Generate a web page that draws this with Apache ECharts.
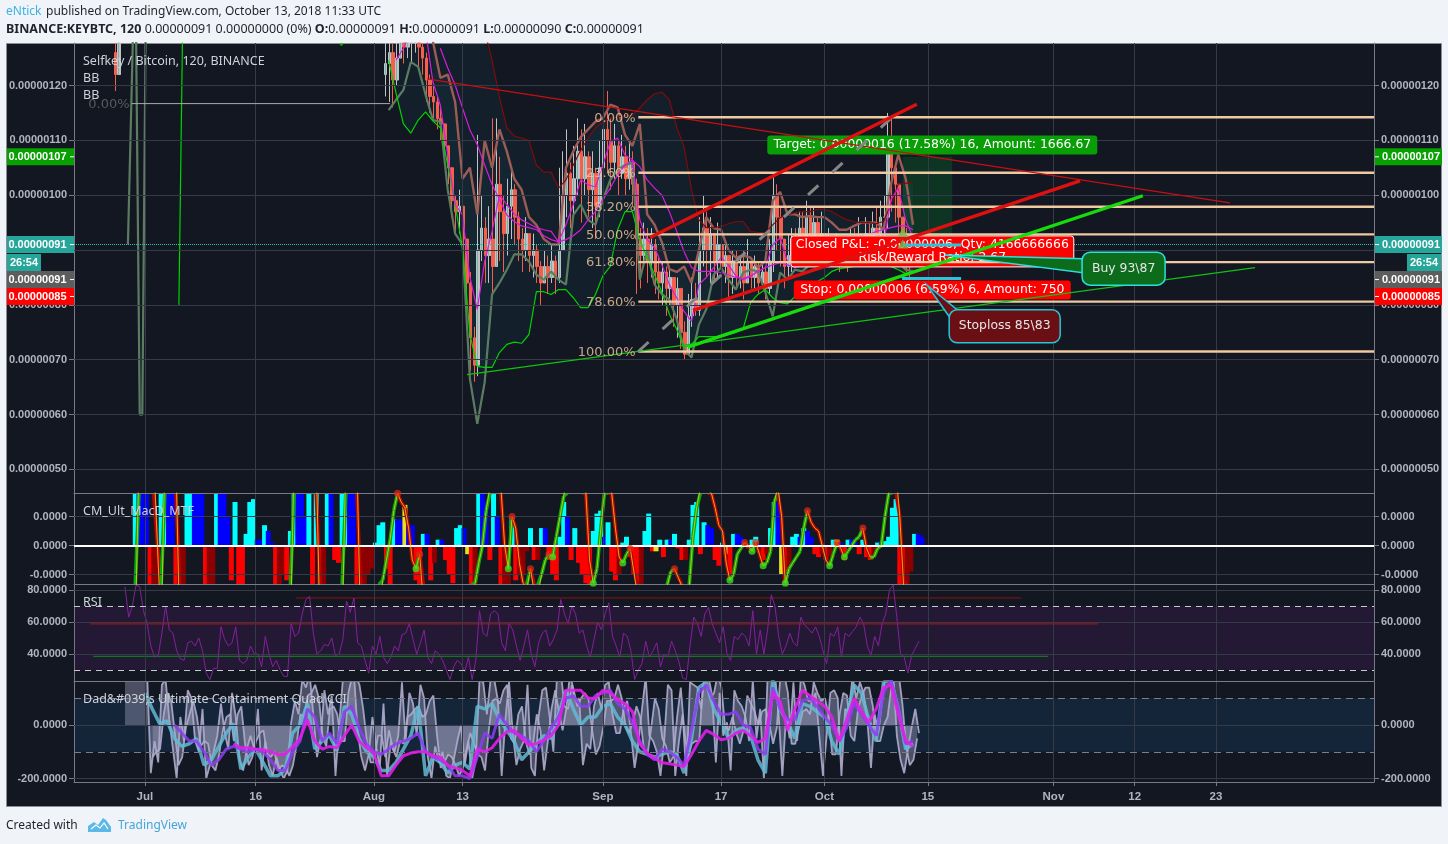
<!DOCTYPE html>
<html><head><meta charset="utf-8"><style>html,body{margin:0;padding:0;background:#f0f3f8}#c{width:1448px;height:844px}</style>
<script src="https://cdn.jsdelivr.net/npm/echarts@6/dist/echarts.min.js"></script></head><body><div id="c"></div>
<script>
// ---- axis ticks (x unit: days since 1 Jul 2018; price unit: 0.00000001 BTC)
const xTickDays=[0,15,31,43,62,78,92,106,123,134,145];
const xTickLabels=['Jul','16','Aug','13','Sep','17','Oct','15','Nov','12','23'];
const priceTicks=[50,60,70,80,90,100,110,120];
const macdTicks=[1,0,-1];
const macdTickLabels=['0.0000','0.0000','-0.0000'];
const rsiTicks=[80,60,40];
const cciTicks=[0,-200];
// ---- candles, half-day samples
const candleStart=32.6;
const candleClose=[124,126,121,125,129,127,130,128,130,127,125,121,118,117,114,113,109,105,99,97,98,92,84,74,69,90,94,89,92,87,102,97,93,98,101,96,92,90,93,89,90,87,84,87,85,88,85,90,100,104,99,103,108,103,107,101,104,98,105,112,110,106,109,104,107,103,106,102,92,89,92,88,91,86,84,86,83,85,80,83,75,71,78,81,79,90,94,90,93,88,91,87,89,85,88,85,87,84,88,85,87,84,86,83,88,100,96,92,87,89,92,89,94,91,96,92,95,90,93,89,91,89,91,88,90,88,92,90,92,90,93,91,94,93,96,96,108,105,102,96,92,89,88,91];
const candleHigh=[128,130,128,130,132,132,133,132,134,131,130,126,122,120,118,116,113,109,104,100,101,97,92,86,76,111,100,96,98,114,114,107,100,103,105,102,97,94,96,93,93,91,88,90,89,91,89,105,108,112,106,109,114,112,113,108,108,105,110,113,119,114,113,110,111,109,110,108,103,94,95,94,94,92,89,88,87,87,85,85,80,77,82,85,84,96,100,97,96,93,95,92,91,89,90,90,89,90,92,88,89,88,88,87,92,104,102,98,92,93,94,94,97,97,99,98,98,96,97,94,94,92,93,92,92,91,94,94,96,93,96,95,97,98,99,100,115,114,106,102,96,94,91,92];
const candleLow=[118,117,116,120,125,124,125,124,126,123,122,117,115,114,112,110,107,102,96,93,93,89,78,68,66,67,88,84,84,82,90,88,86,89,92,91,88,86,88,86,85,84,80,84,82,84,82,84,92,96,94,96,100,95,100,96,94,92,96,103,104,101,103,100,103,100,101,98,82,83,87,84,85,82,81,80,78,80,76,74,72,70,71,76,78,78,87,85,84,84,85,83,84,81,82,83,83,81,84,83,83,82,83,81,82,86,90,87,83,85,86,87,88,88,90,89,89,87,87,86,87,87,87,86,87,86,87,88,88,87,88,88,89,89,91,92,94,97,95,90,88,86,85,87];
const leftCandleDays=[-4,-3.5];
const leftCandleClose=[122,130];
const leftCandleHigh=[128,133];
const leftCandleLow=[119,125];
// ---- Bollinger bands, daily samples
const bbFastUpperStart=39;
const bbFastUpper=[128,121.4,122,117,103,105,96.5,110,105,112,108,103,101,96,94.6,92,91,91,105,108,110.6,112,113.4,114,116.5,116,111,109,113,96.5,94.6,91.4,86.5,86,87,84,90,96,94,93.7,90,88.6,89,88.6,86.8,88,99,100.6,96.5,96.5,96,96.2,96,96,95,93.7,93.7,94.4,95,95,95,93.7,102,107.4,103,94.6];
const bbFastLowerStart=33;
const bbFastLower=[115.5,117.4,119.2,124.3,123.4,118.3,113.7,113.4,101,93,91,66.5,58.3,65.9,81.9,84,86.4,89.2,89.2,87.9,85.5,84.6,86.1,84.6,83.7,96.4,98.3,95.5,94.6,99.2,102.8,104.6,105.5,105.9,84.6,90,83.7,81.9,81,77.4,71.9,70.4,76.4,79.2,85.5,86.8,84.6,82.8,85.9,86.4,86.1,82.3,77.9,85.9,84.6,86.4,86.1,87.3,87.3,87.5,87.7,87.9,87.9,88,88.3,88.6,89,89.2,88.6,87.9,86.4,86.1];
const bbSlowLowerStart=33;
const bbSlowLower=[124.6,118.6,113,111.3,113.7,115.2,113.5,112.3,105.5,98.3,90.4,74.6,68.8,68.6,68.6,71.3,72.8,73.2,73,74.6,82.4,82.4,81.9,82.8,82.8,81.3,79.5,79.5,81.9,85.3,87,93.7,97,97,91.9,88.6,85.5,82.3,78.3,75.5,72.2,72.8,74.2,74.2,74.2,74.2,74.6,75,75.7,80.4,81.9,82.8,81.3,80.4,80.2,81.5,82.4,83.7,84.2,85,86.1,86.6,86.8,87,87.2,87.2,87.2,87,87,86.4,85.7,86.1];
const bbSlowUpperStart=46;
const bbSlowUpper=[130,124.6,117.9,112.3,110.8,110.4,109.9,105.5,104.2,104.2,101.3,102.8,105.5,108.2,110.4,112.3,113.4,114.1,114.3,114.5,114.6,115.9,117.4,118.5,118.8,117.4,112.4,108.8,101,95.5,94.1,94.1,94.3,94.8,95.2,95.2,93.4,93.2,93.2,94.6,95.9,96.4,96.8,97,97,97.4,97.4,97,96.2,95.5,95.2,95,95,94.8,95.2,98.3,102,102.2,102.2];
const maFastStart=34;
const maFast=[124.6,126.8,130,130,130,120.6,116.4,107.4,98.3,96.4,85,79.2,87.9,93.4,100,98.3,96.6,95.5,94.8,94.1,93.7,93.4,91.5,94.6,98.3,102.8,101.9,101.5,105.5,109.7,110.4,107.3,106.5,95.5,91.9,90.4,87.3,83.7,81.3,78.8,77,83.7,85,86.8,88.6,87.3,85.3,84.6,85.2,86.1,86.8,91,92.2,87.9,87.3,87.9,87.9,87.9,87.9,88.3,88.6,88.6,88.6,89,89.7,90.1,91,99.2,101.3,95.5,92.2];
const maSlowStart=40;
const maSlow=[126.8,123.2,120.1,115.9,111.9,109.2,105.5,101.9,99.2,96.4,95.2,94.4,94.1,93.7,92.6,91.9,91.5,91.9,92.6,93.7,95.5,97,99.2,101.3,103.7,105.5,106.4,105.2,102.8,101.3,100,97,93.4,89.7,86.8,86.1,86.1,86.1,85.9,85.5,85,84.8,85.3,86.1,86.8,87.3,87.7,87.3,86.8,87.2,87.5,87.9,88.3,88.6,89.2,90.1,91,91.9,92.8,93.4,93.7,94.1,94.4,94.4,93.7];
const leftBandDays=[-2.3,-1.6,-1.2,-0.7,-0.35,0.1];
const leftBandValues=[91,130,130,60,60,130];
const leftGreenDays=[4.6,5.1];
const leftGreenValues=[80,130];
const strayGreenDot=[[26.6,127.5]];
// ---- fib and drawings (day, price pairs)
const fibLevels=[114.2,104.1,97.9,92.85,87.8,80.6,71.5];
const fibLabels=['0.00%','23.60%','38.20%','50.00%','61.80%','78.60%','100.00%'];
const fibStartDay=66.8;
const oldFibLevel=116.7, oldFibLabel='0.00%', oldFibDays=[-1.8,33.2];
const thinRed=[[38.2,121.2],[146.9,98.6]];
const thinGreen=[[43.6,67.3],[150.3,86.8]];
const thickRedUpper=[[68.4,92.3],[104.5,116.6]];
const thickRedLower=[[74.2,79],[126.6,102.6]];
const thickGreen=[[73.5,72.3],[135.1,99.9]];
const dashedGray=[[66.8,71.5],[100.9,113.9]];
const entryBars=[[[102.6,90.9],[110.5,90.9]],[[102.5,84.8],[110.5,84.8]]];
const tradeArrows=[[102.6,93.2],[102.6,91.1]];
const positionDays=[102.6,109.3];
const lastPrice=91, targetPrice=107, stopPrice=85;
const positionTexts=['Target: 0.00000016 (17.58%) 16, Amount: 1666.67','Closed P&L: -0.00000006, Qty: 4166666666\nRisk/Reward Ratio: 2.67','Stop: 0.00000006 (6.59%) 6, Amount: 750'];
const positionAnchors=[[106.6,109.15],[106.6,89.75],[106.6,82.7]];
const calloutTexts=['Buy 93\\87','Stoploss 85\\83'];
const calloutAnchors=[[132.5,86.6],[116.4,76.1]];
const calloutTips=[[108.3,89.1],[105.9,83.6]];
const badgeTexts=['0.00000107','0.00000091','26:54','0.00000091','0.00000085'];
const badgeValues=[107,91,91,91,85];
// ---- MACD, half-day samples
const macdStart=-1.3;
const macdHist=[3,3,3,2.5,-3,-3,-3,2,3,3,3,-3,-3,-2.5,2.5,3,3,3,2.5,-3,-3,-2.5,3,3,3,1,-1.2,1.5,-2.5,-3,0.4,1.5,1.6,0.2,0.2,0.7,0.5,0.1,-2,-2,-1,-1.2,0.5,3,3,3,1,3,-3,3,-3,-3,3,3,-0.5,-0.6,2,3,3,3,-3,-3,-3,-1,-0.8,0.1,0.7,0.8,-0.8,-2.5,0.9,0.9,0.9,1.4,0.7,0.7,-1.2,-1.8,0.4,0.4,-1.2,-0.6,0.2,0.2,-0.5,-1,-1.3,0.6,0.7,0.6,-0.3,-3,-3,3,3,1.5,-0.5,2.5,1,-3,-3,-3,1,-1.2,-1,-1,-0.2,0.6,-0.5,-0.5,0.6,0.6,-0.5,-1,-1.2,0.3,1.5,1,-0.5,0.6,-0.6,-1,-1.3,-1.8,0.5,1.1,1.2,0.3,0.8,-0.9,-1.2,-1,0.1,0.3,-0.4,-1,-3,-3,0.5,1.1,-0.2,-0.2,0.2,-0.4,0.2,0.2,0.4,-0.1,-0.5,-0.5,0.2,1.4,1.5,-0.3,0.8,0.7,0.6,-0.5,-0.7,0.1,-0.3,-1,0.4,0.4,0.3,0.1,-0.1,0.2,0.3,0.05,-0.5,-0.3,0.6,1.5,1.5,-1,-3,-0.8,0.3,0.4,0.3,0.6,0.5,0.3,-0.3,-0.4,-0.3,-0.5,-0.4,0.2,0.2,0.1,-0.5,0.2,0.2,0.1,-0.3,0.2,-0.4,-0.5,-0.4,0.1,0.1,0.15,0.3,1.3,1.6,-1.8,-3,-2,-0.9,0.4,0.4,0.3];
const macdYellowIdx=[73,90,141,160,175,190];
const macdLine=[-3,3,3,3,3,3,0,-3,3,3,3,3,-3,-3,-3,-3,-3,-3,-3,-3,-3,-3,-3,-3,-3,-3,-3,-3,-3,-3,-3,-3,-3,-3,-3,-3,-3,-3,-3,-3,-3,-3,-3,3,3,3,3,3,3,3,-3,-3,-3,-3,-3,-3,-3,3,3,3,3,-3,-3,-3,-3,-3,-3,-1.2,-0.5,0.2,1.2,1.8,1.5,1.3,0.6,-0.5,-0.8,-0.3,-2,-3,-3,-3,-3,-3,-3,-3,-3,-3,-3,-3,-3,-3,-1.3,-0.6,0,1.2,2,2.5,2.5,2,0,-0.8,1,0.6,-0.6,-1.3,-1.5,-0.8,-1.6,-1.7,-1,-0.5,-0.3,-0.4,0.3,1,1.7,2.5,2.5,2.5,2.5,2.5,1.8,-0.5,-1.3,-0.8,0.5,1.8,2,1.8,0.6,-0.4,-0.6,-0.3,-0.1,-0.9,-1.8,-2.5,-2.5,-2.5,-2.5,-2.5,-2.5,-2.5,-1.4,-0.9,-0.8,-1.1,-1.4,-1.8,-1.4,0.3,1.3,2,2,1.9,1.8,1.3,0.7,0.5,-0.6,-1.2,-1,-0.3,-0.1,0.1,0,-0.2,0.1,-0.3,-0.7,-0.6,-0.2,1.5,2,1,-1.3,-0.8,-0.6,-0.4,-0.2,0.6,1.2,0.8,0.6,0.5,0,-0.5,-0.7,-0.3,0.1,-0.1,-0.4,-0.2,0,0.2,0.3,0.6,-0.1,-0.4,-0.4,-0.1,0,1,1.8,2.2,2.5,1,-1.3,-3];
// ---- RSI, half-day samples
const rsiStart=-2.7;
const rsiValues=[82,63,70,83,82,67,59,45,38,39,53,70,55,53,42,37,36,47,48,45,50,42,28,24,31,31,57,49,45,47,57,36,34,36,45,40,40,32,51,40,32,36,30,26,26,59,51,53,65,74,76,53,40,42,46,45,50,39,40,49,73,66,75,47,45,36,28,45,40,51,38,34,38,45,42,52,53,59,49,40,47,55,38,34,42,40,36,30,24,32,36,34,29,38,24,36,67,53,51,65,67,65,47,42,59,55,45,36,45,55,40,32,47,53,55,45,49,55,74,65,59,70,65,53,55,45,38,49,60,55,65,72,51,45,38,53,51,42,24,30,34,48,38,42,47,32,40,38,48,42,35,25,24,45,63,59,51,65,69,59,53,47,57,40,36,51,49,53,51,45,67,40,55,40,55,77,70,51,40,45,53,47,45,63,58,56,53,57,51,42,34,53,51,57,38,53,51,54,57,63,59,45,39,51,45,59,65,80,83,63,40,38,28,39,43.5,48];
const rsiHighRed=[[20.5,75],[118.6,75]];
const rsiMidRed=[[-7.4,58.8],[129,58.8]];
const rsiGreen=[[-7,38.5],[122.3,38.5]];
// ---- CCI
const cciGrayStart=-2.7;
const cciGray=[200,200,200,200,200,200,190,-180,-60,-140,150,170,20,-90,-200,30,-60,130,100,-60,-100,60,-200,-150,-100,-40,80,-30,-90,120,30,-130,-170,-90,-40,-90,60,-170,-60,-150,-190,-120,-170,-200,-170,10,90,40,170,140,190,40,-120,-50,130,40,110,-190,0,170,200,170,190,-20,-120,-170,-110,30,-80,-160,80,-190,-60,-100,-40,160,-60,120,80,-40,150,100,-120,-200,-80,-140,-100,-190,-200,-130,-60,0,-150,-60,-200,-130,170,160,40,170,170,90,-190,20,160,-30,-150,-90,-60,150,-160,-190,30,130,140,30,-100,190,200,70,60,150,90,100,-150,-70,-90,70,120,60,150,160,40,-30,-30,60,90,-30,-160,-70,60,180,-40,-60,-100,-190,-60,150,130,-190,-60,40,-190,160,150,140,60,200,180,110,-140,120,-40,10,-170,130,90,70,30,-60,170,-50,60,-200,180,200,190,40,-190,30,-50,160,-60,180,150,90,90,120,-40,-190,-40,120,130,100,-190,60,50,180,100,160,120,20,-160,40,-30,90,190,200,200,-40,-130,-180,-90,-10,60,-30];
const cciGrayBetweenStart=1.05;
const cciGrayBetween=[-120,-100,-90,40,120,90,-30,-150,-120,-10,40,90,30,-80,-60,-70,-150,-170,-110,-20,30,40,-60,40,70,-70,-150,-120,-60,-30,-20,-110,-120,-100,-170,-150,-160,-190,-150,-70,40,30,110,120,150,100,-40,-80,60,70,40,-60,-60,120,180,180,150,60,-60,-140,-140,-40,-40,-120,-20,-90,-120,-60,-70,30,40,60,70,30,40,90,110,-40,-160,-140,-110,-120,-150,-190,-160,-90,-30,-70,-110,-120,-170,-20,90,100,80,130,150,-50,-70,40,70,-60,-110,-70,40,-20,-170,-60,60,130,50,-20,60,190,130,70,100,120,100,-20,-110,-80,-10,90,90,100,150,100,0,-30,10,70,30,-90,-110,-10,100,60,-50,-80,-140,-120,30,140,-30,-120,-70,-60,-60,150,150,100,120,190,140,-10,-20,30,-30,-70,-20,110,80,50,0,50,60,0,-70,-10,190,190,120,-70,-70,-10,50,60,40,160,120,90,100,40,-110,-110,40,120,110,-40,-60,60,110,140,140,70,-60,-60,0,30,140,200,190,80,-80,-150,-130,-50];
const cciTeal=[120,60,5,15,-50,-80,-70,-50,-150,-130,-80,-30,5,-165,-120,-90,-140,-190,-190,-165,-30,0,80,-90,-60,-40,-95,70,40,-50,-100,-120,-170,-170,-140,-90,-40,70,-190,-120,-140,-180,-150,-140,-165,70,60,80,20,-20,-60,-130,-100,-70,-40,-50,40,130,60,0,30,30,70,80,30,0,-60,-100,-110,-120,-110,-100,-110,-180,-50,140,160,60,10,-50,-20,-10,-40,-130,-180,170,60,10,-50,80,70,50,30,-60,-110,30,150,120,20,-60,160,170,60,-90,-70];
const cciPurpleStart=4;
const cciPurple=[0,-30,-60,-60,-100,-150,-130,-90,-80,-90,-100,-90,-100,-130,-170,-170,-100,-60,60,30,-60,-30,-70,50,70,-10,-70,-100,-110,-90,-70,-60,-50,-30,-100,-120,-130,-150,-190,-190,-200,-120,-30,-50,40,0,-30,-40,-60,-100,-60,-10,30,100,110,70,70,110,120,130,80,60,10,-60,-110,-130,-90,-100,-120,-150,-20,120,150,90,40,40,50,0,-10,-90,-110,140,60,20,20,90,100,70,30,0,-60,-10,80,40,0,-40,120,170,60,-70,-60];
const cciMagentaStart=12;
const cciMagenta=[-70,-85,-85,-90,-92,-100,-110,-110,-80,-50,20,-60,-90,-80,-85,-40,0,-60,-85,-105,-190,-190,-150,-115,-105,-100,-100,-115,-120,-150,-160,-170,-190,-90,-100,-85,-50,-25,-20,-50,-75,-70,-55,-40,0,130,130,130,100,100,130,120,95,80,50,-70,-105,-125,-140,-145,-150,-155,-110,-60,-20,-35,-55,-50,-30,-20,-40,-65,-50,120,90,-20,60,130,110,90,70,30,-60,20,100,50,10,60,140,150,40,-60,-80];

// ---- scales of the panes
const xMin=-9.6,xMax=166.4;
const panes=[
 {top:43,height:450,min:45.7,max:127.75,ticks:priceTicks,fmt:v=>'0.00000'+String(v).padStart(3,'0')},
 {top:493,height:91.5,min:-1.345,max:1.81,ticks:macdTicks,fmt:v=>macdTickLabels[macdTicks.indexOf(v)]},
 {top:585,height:96,min:23.1,max:83.1,ticks:rsiTicks,fmt:v=>v.toFixed(4)},
 {top:682,height:100,min:-213,max:160.7,ticks:cciTicks,fmt:v=>v.toFixed(4)}
];
const labelFont={fontFamily:'Liberation Sans',fontSize:11,fontWeight:'bold',color:'#b2b5bd'};
const axisColor='#787b86', gridColor='#363a46';
const grids=[],xAxes=[],yAxes=[];
panes.forEach((p,i)=>{
 grids.push({left:74,right:74,top:p.top,height:p.height,containLabel:false});
 const last=i===panes.length-1;
 xAxes.push({type:'value',gridIndex:i,min:xMin,max:xMax,z:5,position:'bottom',
  axisLine:{show:true,onZero:false,lineStyle:{color:axisColor}},splitLine:{show:false},
  axisTick:{show:last,customValues:xTickDays,length:4,lineStyle:{color:axisColor}},
  axisLabel:{show:last,customValues:xTickDays,margin:9,formatter:v=>xTickLabels[xTickDays.indexOf(v)],...labelFont,fontSize:11.5}});
 ['left','right'].forEach(pos=>yAxes.push({type:'value',gridIndex:i,position:pos,min:p.min,max:p.max,z:0,
  axisLine:{show:true,onZero:false,lineStyle:{color:axisColor}},splitLine:{show:false},
  axisTick:{show:true,customValues:p.ticks,length:5,lineStyle:{color:axisColor}},
  axisLabel:{customValues:p.ticks,margin:7,padding:[3,0,0,0],formatter:p.fmt,...labelFont}}));
});
const seq=(start,step,vals)=>vals.map((v,i)=>[start+step*i,v]);
const line=(pane,data,color,width,extra)=>Object.assign({type:'line',xAxisIndex:pane,yAxisIndex:pane*2,data,symbol:'none',silent:true,z:4,
  lineStyle:{color,width},animation:false},extra||{});
const series=[];
// grid guides
panes.forEach((p,i)=>{
 const h=p.ticks.map(v=>({yAxis:v}));
 const v=xTickDays.map(d=>({xAxis:d}));
 series.push({type:'line',xAxisIndex:i,yAxisIndex:i*2,data:[],z:1,silent:true,
  markLine:{silent:true,symbol:'none',animation:false,label:{show:false},lineStyle:{color:gridColor,width:1,type:'solid'},data:h.concat(v)}});
});
// BB fills
const band=(upper,lower,fill)=>({type:'custom',xAxisIndex:0,yAxisIndex:0,z:1,silent:true,data:[[0,60]],encode:{x:0,y:1},animation:false,
 renderItem(params,api){
  const pts=upper.concat(lower.slice().reverse()).map(p=>api.coord(p));
  const c=params.coordSys;
  return {type:'polygon',shape:{points:echarts.graphic.clipPointsByRect(pts,{x:c.x,y:c.y,width:c.width,height:c.height})},style:{fill}};
 }});
const slowUpperFull=seq(bbSlowLowerStart,1,bbSlowLower).map(([d])=>{const k=d-bbSlowUpperStart;return [d,k>=0?bbSlowUpper[k]:130];});
series.push(band(slowUpperFull,seq(bbSlowLowerStart,1,bbSlowLower),'rgba(33,150,170,0.07)'));
series.push(band(seq(bbFastUpperStart,1,bbFastUpper),seq(bbFastLowerStart+6,1,bbFastLower.slice(6)),'rgba(33,150,170,0.05)'));
// position zones
series.push({type:'line',xAxisIndex:0,yAxisIndex:0,data:[],z:2,silent:true,
 markArea:{silent:true,animation:false,label:{show:false},data:[
  [{xAxis:positionDays[0],yAxis:lastPrice,itemStyle:{color:'rgba(0,140,40,0.25)'}},{xAxis:positionDays[1],yAxis:targetPrice}],
  [{xAxis:positionDays[0],yAxis:stopPrice,itemStyle:{color:'rgba(200,0,20,0.25)'}},{xAxis:positionDays[1],yAxis:lastPrice}]]},
 markLine:{silent:true,symbol:'none',animation:false,label:{show:false},lineStyle:{color:'#26c6b8',width:1,type:'dotted'},data:[{yAxis:lastPrice}]}});
// candles (held inside the pane's price range, because the candlestick draws past it)
const priceCeil=panes[0].max, cap=v=>Math.min(v,priceCeil);
const candleRows=[];
leftCandleDays.forEach((d,i)=>{const o=i?leftCandleClose[i-1]:leftCandleClose[i]+4;const c=leftCandleClose[i];
 candleRows.push([d,cap(o),cap(c),Math.min(leftCandleLow[i],o,c),cap(Math.max(leftCandleHigh[i],o,c))]);});
candleClose.forEach((c,i)=>{const o=i?candleClose[i-1]:c-2;
 candleRows.push([candleStart+0.5*i,cap(o),cap(c),Math.min(candleLow[i],o,c),cap(Math.max(candleHigh[i],o,c))]);});
series.push({type:'candlestick',xAxisIndex:0,yAxisIndex:0,z:3,silent:true,barWidth:3,animation:false,encode:{x:0,y:[1,2,3,4]},data:candleRows,
 itemStyle:{color:'#c2c2c2',color0:'#f4604c',borderColor:'#c2c2c2',borderColor0:'#f4604c',borderWidth:1}});
series.push({type:'candlestick',xAxisIndex:0,yAxisIndex:0,z:3,silent:true,barWidth:1,animation:false,encode:{x:0,y:[1,2,3,4]},
 data:candleRows.filter(r=>r[2]>r[1]).map(r=>[r[0],r[1],r[2],r[1],r[2]]),
 itemStyle:{color:'#22a79b',color0:'#22a79b',borderColor:'#22a79b',borderColor0:'#22a79b',borderWidth:0.5}});
// Bollinger lines
series.push(line(0,seq(bbFastLowerStart,1,bbFastLower),'#5c7c62',2.2));
series.push(line(0,leftBandDays.map((d,i)=>[d,leftBandValues[i]]),'#5c7c62',2.2));
series.push(line(0,seq(bbFastUpperStart,1,bbFastUpper),'#9c5c56',2.4));
series.push(line(0,seq(bbSlowLowerStart,1,bbSlowLower),'#00d400',1.2));
series.push(line(0,leftGreenDays.map((d,i)=>[d,leftGreenValues[i]]),'#00d400',1.2));
series.push({type:'scatter',xAxisIndex:0,yAxisIndex:0,z:4,silent:true,symbolSize:3,itemStyle:{color:'#00d400'},data:strayGreenDot,animation:false});
series.push(line(0,seq(bbSlowUpperStart,1,bbSlowUpper),'#7c0d0d',1.2));
series.push(line(0,seq(maFastStart,1,maFast),'#d81bdc',1.2));
series.push(line(0,seq(maSlowStart,1,maSlow),'#d81bdc',1.2));
// position labels (below the drawings)
const posStyle=[{fill:'#099e06',w:330,h:19,stroke:null},{fill:'#ff0000',w:283,h:31,stroke:'#ffffff'},{fill:'#ff0000',w:277,h:19,stroke:null}];
const textFont='12.4px "DejaVu Sans"';
series.push({type:'custom',xAxisIndex:0,yAxisIndex:0,z:5,silent:true,animation:false,
 data:positionAnchors.map(a=>[a[0],a[1]]),encode:{x:0,y:1},clip:false,
 renderItem(params,api){
  const i=params.dataIndex,s=posStyle[i],c=api.coord([api.value(0),api.value(1)]);
  return {type:'group',children:[
   {type:'rect',shape:{x:c[0]-s.w/2,y:c[1]-s.h/2,width:s.w,height:s.h,r:3},style:{fill:s.fill,stroke:s.stroke,lineWidth:1}},
   {type:'text',style:{text:positionTexts[i],x:c[0],y:c[1],align:'center',verticalAlign:'middle',fill:'#ffffff',font:textFont,lineHeight:12.5}}]};
 }});
// fib lines
fibLevels.forEach(v=>series.push(line(0,[[fibStartDay,v],[xMax,v]],'#eec9a2',2.4,{z:6})));
series.push({type:'scatter',xAxisIndex:0,yAxisIndex:0,z:6,silent:true,symbolSize:1,itemStyle:{color:'transparent'},animation:false,
 data:fibLevels.map(v=>[fibStartDay-0.3,v]),
 label:{show:true,position:'left',distance:0,offset:[0,1],color:'#f0cba0',fontFamily:'DejaVu Sans',fontSize:13,formatter:p=>fibLabels[p.dataIndex]}});
series.push(line(0,oldFibDays.map(d=>[d,oldFibLevel]),'#a9a9a9',1,{z:6}));
series.push({type:'scatter',xAxisIndex:0,yAxisIndex:0,z:6,silent:true,symbolSize:1,itemStyle:{color:'transparent'},animation:false,
 data:[[oldFibDays[0]-0.2,oldFibLevel]],
 label:{show:true,position:'left',distance:0,offset:[0,1],color:'#6a6a6a',fontFamily:'DejaVu Sans',fontSize:13,formatter:()=>oldFibLabel}});
// trend lines
series.push(line(0,thinRed,'#c80f0f',1.2,{z:6}));
series.push(line(0,thinGreen,'#12c012',1.2,{z:6}));
series.push(line(0,dashedGray,'#858585',3,{z:6,lineStyle:{color:'#858585',width:3,type:[14,19]}}));
series.push(line(0,thickRedUpper,'#e01010',3.4,{z:6}));
series.push(line(0,thickRedLower,'#e01010',3.4,{z:6}));
series.push(line(0,thickGreen,'#16dc0c',3.4,{z:6}));
entryBars.forEach(b=>series.push(line(0,b,'#26c6da',3,{z:6})));
series.push({type:'scatter',xAxisIndex:0,yAxisIndex:0,z:6,silent:true,symbol:'triangle',symbolSize:[11,9],itemStyle:{color:'#76b84c'},data:tradeArrows,animation:false});
// callouts
const calloutStyle=[{fill:'#0c6c1c',stroke:'#2be0dc',w:83,h:33,tail:[[-41,-10],[-41,4]]},{fill:'#6a0f14',stroke:'#26c6da',w:111,h:33,tail:[[-47,-16],[-55,-9]]}];
series.push({type:'custom',xAxisIndex:0,yAxisIndex:0,z:7,silent:true,animation:false,clip:false,
 data:calloutAnchors.map(a=>[a[0],a[1]]),encode:{x:0,y:1},
 renderItem(params,api){
  const i=params.dataIndex,s=calloutStyle[i],c=api.coord([api.value(0),api.value(1)]),t=api.coord(calloutTips[i]);
  return {type:'group',children:[
   {type:'polygon',shape:{points:[t,[c[0]+s.tail[0][0],c[1]+s.tail[0][1]],[c[0]+s.tail[1][0],c[1]+s.tail[1][1]]]},style:{fill:s.fill,stroke:s.stroke,lineWidth:1.5}},
   {type:'rect',shape:{x:c[0]-s.w/2,y:c[1]-s.h/2,width:s.w,height:s.h,r:8},style:{fill:s.fill,stroke:s.stroke,lineWidth:1.5}},
   {type:'text',style:{text:calloutTexts[i],x:c[0],y:c[1],align:'center',verticalAlign:'middle',fill:'#e6e6e6',font:textFont}}]};
 }});
// price badges on both axes
const badgeStyle=[{fill:'#07a000',dy:0},{fill:'#26a69a',dy:0},{fill:'#26a69a',dy:18,time:true},{fill:'#5d5d5d',dy:35},{fill:'#ff0000',dy:19}];
series.push({type:'custom',xAxisIndex:0,yAxisIndex:0,z:8,silent:true,animation:false,clip:false,
 data:badgeValues.map(v=>[0,v]),encode:{x:0,y:1},
 renderItem(params,api){
  const i=params.dataIndex,s=badgeStyle[i],y=api.coord([0,api.value(1)])[1]+s.dy,c=params.coordSys;
  const kids=[];
  const side=(left)=>{
   const w=s.time?34:67, x=left?(s.time?7:c.x-67):(s.time?c.x+c.width+33:c.x+c.width+1);
   kids.push({type:'rect',shape:{x,y:y-8.5,width:w,height:17},style:{fill:s.fill}});
   if(!s.time)kids.push({type:'rect',shape:{x:left?x+63:x,y:y-0.5,width:4,height:1},style:{fill:'#ffffff'}});
   kids.push({type:'text',style:{text:badgeTexts[i],x:x+w/2+(s.time?0:(left?-3:2.5)),y:y+0.5,align:'center',verticalAlign:'middle',fill:'#fff',font:'bold 11px "Liberation Sans"'}});
  };
  side(true);side(false);
  return {type:'group',children:kids};
 }});
// MACD pane
const macdPts=seq(macdStart,0.5,macdHist).map((p,i)=>{
 const v=p[1],q=i?macdHist[i-1]:0;
 let color=v>=0?(v>q?'#00ffff':'#0000ff'):(v<q?'#ff0000':'#8b0000');
 if(macdYellowIdx.includes(i))color='#e6e020';
 return {value:p,itemStyle:{color}};
});
series.push({type:'bar',xAxisIndex:1,yAxisIndex:2,barWidth:5,z:3,silent:true,animation:false,data:macdPts});
const macdSeq=seq(macdStart,0.5,macdLine);
series.push({type:'custom',xAxisIndex:1,yAxisIndex:2,z:4,silent:true,animation:false,data:macdSeq,encode:{x:0,y:1},clip:true,
 renderItem(params,api){
  const i=params.dataIndex;if(!i)return null;
  const a=api.coord(macdSeq[i-1]),b=api.coord(macdSeq[i]);
  const c=params.coordSys;
  if((a[1]<c.y&&b[1]<c.y)||(a[1]>c.y+c.height&&b[1]>c.y+c.height))return null;
  const up=macdLine[i]>=macdLine[i-1];
  return {type:'polyline',shape:{points:echarts.graphic.clipPointsByRect([a,b],{x:c.x,y:c.y,width:c.width,height:c.height})},style:{stroke:up?'#0aa80a':'#c00000',lineWidth:3.6,fill:null}};
 }});
series.push(line(1,macdSeq,'rgba(227,212,28,0.8)',1,{z:5}));
const turning=[];
macdLine.forEach((v,i)=>{if(!i||i>=macdLine.length-1||Math.abs(v)>=2.4)return;
 const a=macdLine[i-1],b=macdLine[i+1];
 if(v>a&&v>b)turning.push({value:macdSeq[i],itemStyle:{color:'rgba(225,40,20,0.9)'}});
 else if(v<a&&v<b)turning.push({value:macdSeq[i],itemStyle:{color:'rgba(60,225,30,0.95)'}});});
series.push({type:'scatter',xAxisIndex:1,yAxisIndex:2,z:6,silent:true,symbolSize:7,data:turning,animation:false});
series.push({type:'line',xAxisIndex:1,yAxisIndex:2,data:[],z:7,silent:true,
 markLine:{silent:true,symbol:'none',animation:false,label:{show:false},lineStyle:{color:'#ffffff',width:2,type:'solid'},data:[{yAxis:0}]}});
// RSI pane
series.push({type:'line',xAxisIndex:2,yAxisIndex:4,data:[],z:2,silent:true,
 markArea:{silent:true,animation:false,itemStyle:{color:'rgba(155,39,176,0.13)'},data:[[{yAxis:70},{yAxis:30}]]},
 markLine:{silent:true,symbol:'none',animation:false,label:{show:false},lineStyle:{color:'#c9c9d2',width:1,type:[6,5]},data:[{yAxis:70},{yAxis:30}]}});
series.push(line(2,rsiHighRed,'#8f1010',1,{z:3}));
series.push(line(2,rsiMidRed,'#a01018',1.2,{z:3}));
series.push(line(2,rsiGreen,'#0f7a1a',1.2,{z:3}));
series.push(line(2,seq(rsiStart,0.5,rsiValues),'#85209c',1));
// CCI pane
series.push({type:'line',xAxisIndex:3,yAxisIndex:6,data:[],z:2,silent:true,
 markArea:{silent:true,animation:false,itemStyle:{color:'rgba(33,150,243,0.11)'},data:[[{yAxis:100},{yAxis:-100}]]},
 markLine:{silent:true,symbol:'none',animation:false,label:{show:false},lineStyle:{color:'#7c7f88',width:1,type:[7,5]},data:[{yAxis:100},{yAxis:-100}]}});
const grayLook={z:3,areaStyle:{color:'rgba(170,170,200,0.55)',origin:0},lineStyle:{color:'rgba(175,172,205,0.9)',width:1.8}};
series.push(line(3,seq(cciGrayStart,0.5,cciGray),'#a6a4c4',1.8,grayLook));
series.push(line(3,seq(cciGrayBetweenStart,0.5,cciGrayBetween),'#a6a4c4',1.8,grayLook));
series.push(line(3,seq(0,1,cciTeal),'#63b6cf',3.5,{z:4,lineStyle:{color:'rgba(99,186,212,0.85)',width:3.5}}));
series.push(line(3,seq(cciPurpleStart,1,cciPurple),'#8e3cf2',3,{z:5,lineStyle:{color:'rgba(142,60,242,0.85)',width:3}}));
series.push(line(3,seq(cciMagentaStart,1,cciMagenta),'#e01fe6',3,{z:6,lineStyle:{color:'rgba(226,30,232,0.9)',width:3}}));

const txt=(text,x,y,font,fill,extra)=>({type:'text',z:50,silent:true,style:Object.assign({text,x,y,font,fill,verticalAlign:'middle'},extra||{})});
const paneFont='12.5px "Noto Sans"', paneInk='#cfd2d8';
const headFont='12.5px "Noto Sans"';
const headBold='bold 12.5px "Noto Sans"';
const option={
 backgroundColor:'#f0f3f8',animation:false,
 grid:grids,xAxis:xAxes,yAxis:yAxes,series,
 graphic:{elements:[
  {type:'rect',z:-10,silent:true,shape:{x:6.5,y:43.5,width:1435,height:763},style:{fill:'#131722',stroke:'#8a8d94',lineWidth:1}},
  {type:'rect',z:1,silent:true,shape:{x:7,y:783,width:1434,height:23},style:{fill:'#131722'}},
  txt('eNtick',6,12,'12px "Noto Sans"','#3fb1e6'),
  txt('published on TradingView.com, October 13, 2018 11:33 UTC',46,12,'12px "Noto Sans"','#1f2329'),
  txt('{b|BINANCE:KEYBTC, 120} 0.00000091 0.00000000 (0%) {b|O:}0.00000091 {b|H:}0.00000091 {b|L:}0.00000090 {b|C:}0.00000091',6,29,headFont,'#1f2329',{rich:{b:{font:headBold,fill:'#1f2329'}}}),
  txt('Selfkey / Bitcoin, 120, BINANCE',83,61,paneFont,paneInk),
  txt('BB',83,78,paneFont,paneInk),
  txt('BB',83,95,paneFont,paneInk),
  txt('CM_Ult_MacD_MTF',83,511,paneFont,paneInk),
  txt('RSI',83,602,paneFont,paneInk),
  txt('Dad&#039;s Ultimate Containment Quad CCI',83,699,paneFont,paneInk),
  txt('Created with',6,826,'12px "Noto Sans"','#1f2329'),
  {type:'polygon',z:50,silent:true,shape:{points:[[88,832],[88,826],[94,822],[98,825],[103,818],[106,820],[111,827],[111,832]]},style:{fill:'#5cb8e6'}},
  {type:'polyline',z:51,silent:true,shape:{points:[[91,829],[96,825],[100,828],[104,823],[108,829]]},style:{stroke:'#ffffff',lineWidth:1.2,fill:null}},
  txt('TradingView',118,826,'12px "Noto Sans"','#48a5dc')
 ]}
};
const chart=echarts.init(document.getElementById('c'),null,{renderer:'canvas',width:1448,height:844});
chart.setOption(option);
</script></body></html>
